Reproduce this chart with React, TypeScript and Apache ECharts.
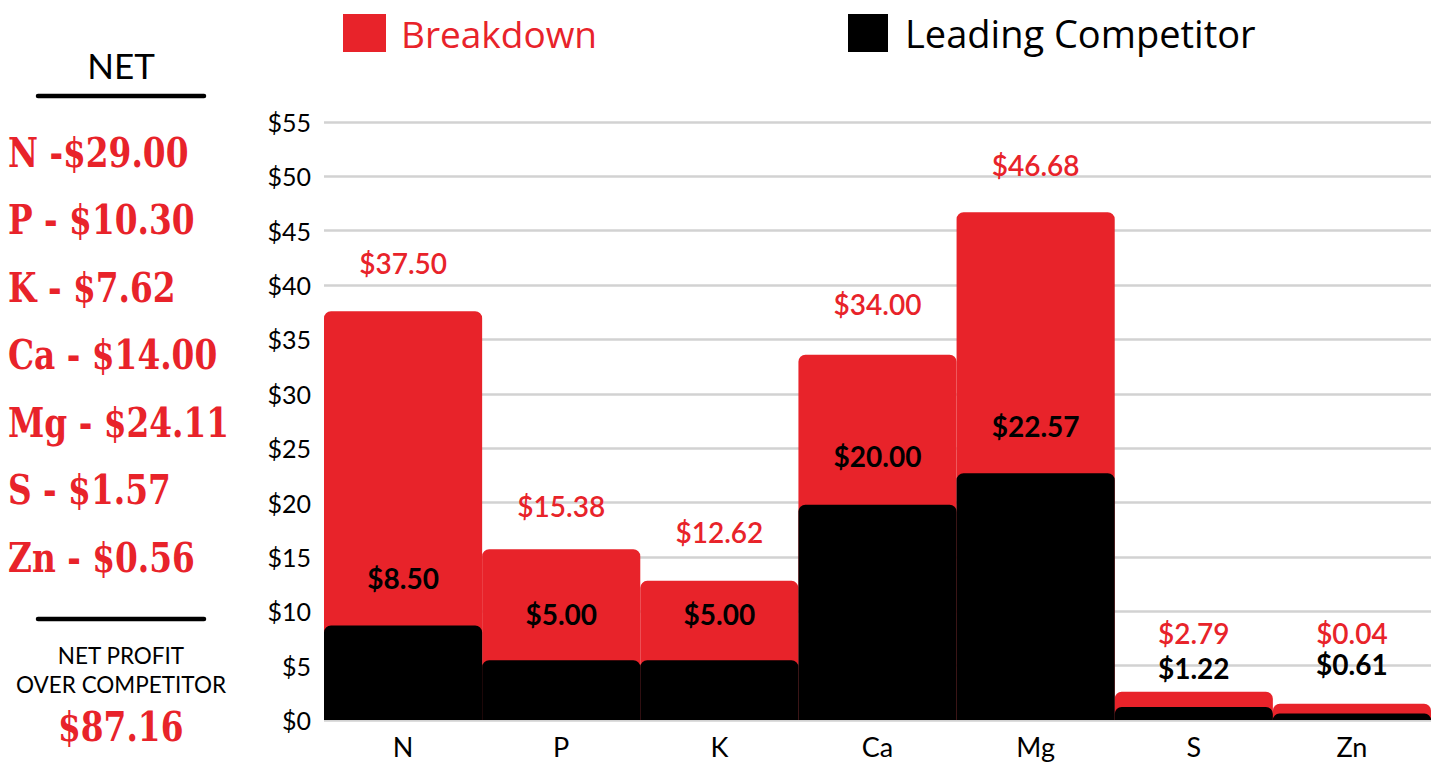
import React, { useEffect, useRef } from "react";
import * as echarts from "echarts";

const categories = ["N", "P", "K", "Ca", "Mg", "S", "Zn"];
// bar heights as drawn in the picture
const breakdown = [37.6, 15.7, 12.8, 33.6, 46.7, 2.6, 1.5];
const competitor = [8.7, 5.5, 5.5, 19.8, 22.7, 1.2, 0.6];
// printed value labels
const breakdownLabels = ["$37.50", "$15.38", "$12.62", "$34.00", "$46.68", "$2.79", "$0.04"];
const competitorLabels = ["$8.50", "$5.00", "$5.00", "$20.00", "$22.57", "$1.22", "$0.61"];
const netLines = ["N -$29.00", "P - $10.30", "K - $7.62", "Ca - $14.00", "Mg - $24.11", "S - $1.57", "Zn - $0.56"];
const netTotal = "$87.16";
const yTicks = { min: 0, max: 55, interval: 5 };

const RED = "#E8232A";
const BLACK = "#000000";
const redLabelDist = [34, 29, 35, 37, 33, 45, 57];
const blackLabelDist = [33, 32, 32, 35, 33, 25, 35];

export default function App() {
  const ref = useRef<HTMLDivElement>(null);
  useEffect(() => {
    if (!ref.current) return;
    const chart = echarts.init(ref.current, null, { renderer: "svg" });
    const slab = "'DejaVu Serif', serif";
    const netGraphics: any[] = netLines.map((t, i) => ({
      type: "text",
      left: 8,
      top: 153 + i * 67.5 - 21,
      scaleX: 0.8,
      style: { text: t, font: `bold 41px ${slab}`, fill: RED },
    }));
    chart.setOption({
      animation: false,
      textStyle: { fontFamily: "Lato" },
      legend: [
        {
          left: 343,
          top: 14,
          padding: 0,
          itemWidth: 43,
          itemHeight: 38,
          icon: "rect",
          data: [{ name: "Breakdown", textStyle: { color: RED } }],
          textStyle: { fontFamily: "Open Sans", fontSize: 37, padding: [0, 0, 6, 10] },
          selectedMode: false,
        },
        {
          left: 848,
          top: 14,
          padding: 0,
          itemWidth: 40,
          itemHeight: 38,
          icon: "rect",
          data: [{ name: "Leading Competitor", textStyle: { color: BLACK } }],
          textStyle: { fontFamily: "Open Sans", fontSize: 38, padding: [0, 0, 6, 12] },
          selectedMode: false,
        },
      ],
      grid: { left: 324, right: 4, top: 122, bottom: 47 },
      xAxis: {
        type: "category",
        data: categories,
        axisLine: { show: false },
        axisTick: { show: false },
        axisLabel: { color: "#000", fontSize: 27, margin: 13, fontFamily: "Lato" },
      },
      yAxis: {
        type: "value",
        min: yTicks.min,
        max: yTicks.max,
        interval: yTicks.interval,
        axisLine: { show: false },
        axisTick: { show: false },
        splitLine: { lineStyle: { color: "#d2d2d2", width: 2.5 } },
        axisLabel: { color: "#000", fontSize: 25, margin: 13, formatter: "${value}", fontFamily: "Lato" },
      },
      series: [
        {
          name: "Breakdown",
          type: "bar",
          barCategoryGap: "0%",
          barGap: "-100%",
          itemStyle: { color: RED, borderRadius: [7, 7, 0, 0] },
          data: breakdown.map((v, i) => ({
            value: v,
            label: {
              show: true,
              position: "top",
              distance: redLabelDist[i],
              formatter: breakdownLabels[i],
              color: RED,
              fontSize: 28,
              fontWeight: 600,
              fontFamily: "Lato",
            },
          })),
          z: 2,
        },
        {
          name: "Leading Competitor",
          type: "bar",
          barCategoryGap: "0%",
          barGap: "-100%",
          itemStyle: { color: BLACK, borderRadius: [7, 7, 0, 0] },
          data: competitor.map((v, i) => ({
            value: v,
            label: {
              show: true,
              position: "top",
              distance: blackLabelDist[i],
              formatter: competitorLabels[i],
              color: BLACK,
              fontSize: 28,
              fontWeight: 700,
              fontFamily: "Lato",
            },
          })),
          z: 3,
        },
      ],
      graphic: [
        {
          type: "text",
          x: 121,
          y: 65,
          style: { text: "NET", font: "35px Lato", fill: "#000", align: "center", verticalAlign: "middle" },
        },
        {
          type: "line",
          shape: { x1: 38, y1: 96, x2: 204, y2: 96 },
          style: { stroke: "#000", lineWidth: 4.5, lineCap: "round" },
        },
        ...netGraphics,
        {
          type: "line",
          shape: { x1: 38, y1: 619, x2: 204, y2: 619 },
          style: { stroke: "#000", lineWidth: 4.5, lineCap: "round" },
        },
        {
          type: "text",
          x: 121,
          y: 655,
          style: { text: "NET PROFIT", font: "22.5px Lato", fill: "#000", align: "center", verticalAlign: "middle" },
        },
        {
          type: "text",
          x: 121,
          y: 684,
          style: { text: "OVER COMPETITOR", font: "22.5px Lato", fill: "#000", align: "center", verticalAlign: "middle" },
        },
        {
          type: "text",
          left: 58,
          top: 706,
          scaleX: 0.8,
          style: { text: netTotal, font: `bold 41px ${slab}`, fill: RED },
        },
      ],
    });
    return () => chart.dispose();
  }, []);
  return (
    <div
      ref={ref}
      style={{ position: "fixed", left: 0, top: 0, width: 1435, height: 767, background: "#fff" }}
    />
  );
}
